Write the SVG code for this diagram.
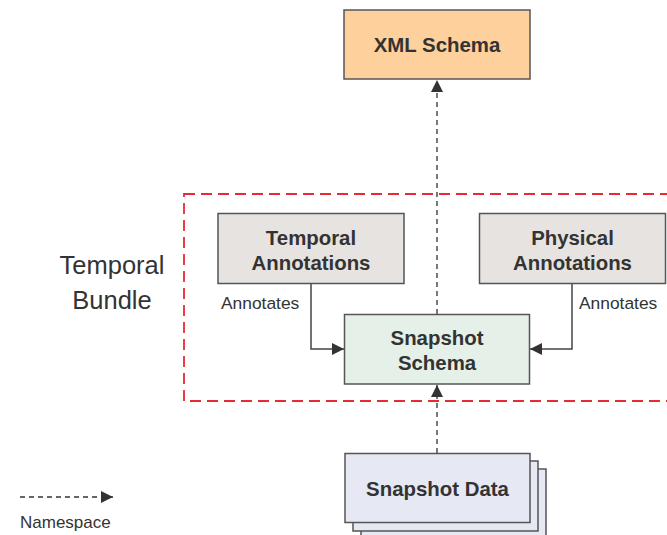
<svg xmlns="http://www.w3.org/2000/svg" width="667" height="535" viewBox="0 0 667 535">
<defs>
<style>
.box{stroke:#555;stroke-width:1.5}
.t{font-family:"Liberation Sans",Arial,sans-serif;font-weight:bold;font-size:20.4px;fill:#333;text-anchor:middle}
.l{font-family:"Liberation Sans",Arial,sans-serif;font-size:17.4px;fill:#333}
.dash{stroke:#333;stroke-width:1.3;stroke-dasharray:5,4;fill:none}
.solid{stroke:#444;stroke-width:1.5;fill:none}
</style>
<marker id="ah" viewBox="0 0 10 10" refX="10" refY="5" markerWidth="12" markerHeight="12" markerUnits="userSpaceOnUse" orient="auto">
<path d="M0,0 L10,5 L0,10 z" fill="#333"/>
</marker>
</defs>
<rect width="667" height="535" fill="#fff"/>
<g id="bundle">
<rect x="184" y="194" width="500" height="207" fill="none" stroke="#e62a36" stroke-width="1.8" stroke-dasharray="11,6"/>
<text class="l" style="font-size:25.5px" x="112" y="274" text-anchor="middle">Temporal</text>
<text class="l" style="font-size:25.5px" x="112" y="309" text-anchor="middle">Bundle</text>
</g>
<g id="connectors">
<line class="dash" x1="437" y1="314" x2="437" y2="80" marker-end="url(#ah)"/>
<line class="dash" x1="437" y1="453" x2="437" y2="385" marker-end="url(#ah)"/>
<polyline class="solid" points="311,284 311,349 344,349" marker-end="url(#ah)"/>
<polyline class="solid" points="572,284 572,349 530,349" marker-end="url(#ah)"/>
<text class="l" x="221" y="309">Annotates</text>
<text class="l" x="579" y="309">Annotates</text>
</g>
<g id="xml-schema">
<rect class="box" x="344" y="10" width="186" height="69" fill="#fdd09c"/>
<text class="t" x="437" y="52">XML Schema</text>
</g>
<g id="temporal-annotations">
<rect class="box" x="218" y="213.5" width="186" height="70" fill="#e7e3e0"/>
<text class="t" x="311" y="245">Temporal</text>
<text class="t" x="311" y="270">Annotations</text>
</g>
<g id="physical-annotations">
<rect class="box" x="479.5" y="213.5" width="186" height="70" fill="#e7e3e0"/>
<text class="t" x="572.5" y="245">Physical</text>
<text class="t" x="572.5" y="270">Annotations</text>
</g>
<g id="snapshot-schema">
<rect class="box" x="344.5" y="314.5" width="185" height="69.5" fill="#e5f0e8"/>
<text class="t" x="437" y="345">Snapshot</text>
<text class="t" x="437" y="370">Schema</text>
</g>
<g id="snapshot-data">
<rect class="box" x="361" y="469" width="185" height="70" fill="#e6e8f3"/>
<rect class="box" x="353" y="461" width="185" height="70" fill="#e6e8f3"/>
<rect class="box" x="345" y="453.5" width="185" height="69" fill="#e6e8f3"/>
<text class="t" x="437.5" y="496">Snapshot Data</text>
</g>
<g id="legend">
<line class="dash" x1="20" y1="497" x2="113" y2="497" marker-end="url(#ah)"/>
<text class="l" style="font-size:17px" x="20" y="528">Namespace</text>
</g>
</svg>
